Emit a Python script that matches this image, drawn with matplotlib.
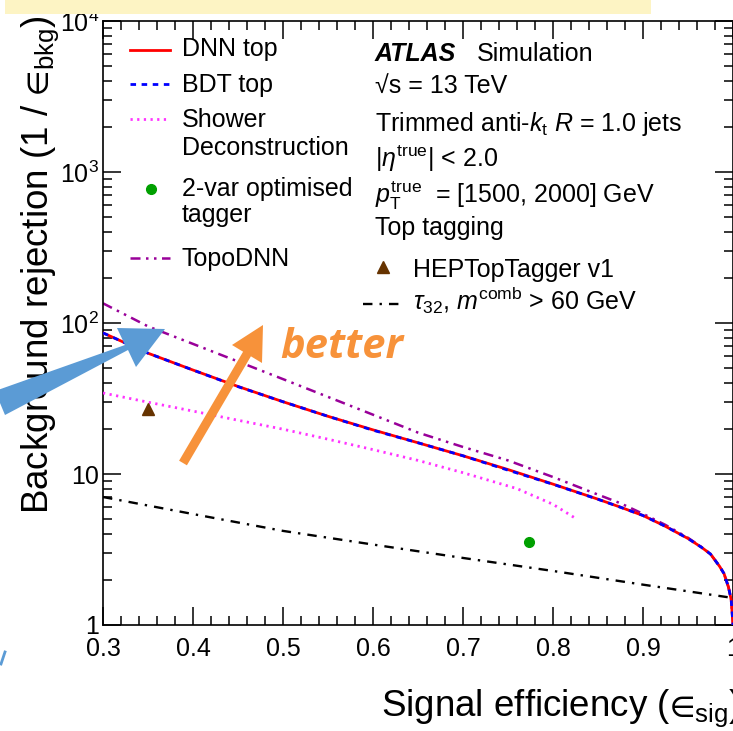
import math

import matplotlib
matplotlib.use('Agg')
import matplotlib.pyplot as plt
from matplotlib.lines import Line2D
from matplotlib.patches import Polygon, Rectangle
from matplotlib.ticker import FixedLocator, FuncFormatter, LogLocator, MultipleLocator

plt.rcParams['font.family'] = ['Liberation Sans', 'DejaVu Sans']
plt.rcParams['mathtext.fontset'] = 'custom'
plt.rcParams['mathtext.rm'] = 'Liberation Sans'
plt.rcParams['mathtext.it'] = 'Liberation Sans:italic'
plt.rcParams['mathtext.bf'] = 'Liberation Sans:bold'

# signal efficiency vs background rejection, pT^true in [1500, 2000] GeV
eff_dnn = [0.30, 0.35, 0.40, 0.45, 0.50, 0.55, 0.60, 0.65, 0.70, 0.75, 0.80, 0.85,
           0.875, 0.90, 0.925, 0.95, 0.965, 0.975, 0.985, 0.99, 0.995, 0.998, 1.0]
rej_dnn = [86, 63.1, 48.8, 38.0, 30.1, 24.1, 19.6, 16.1, 13.2, 10.7, 8.57, 6.81,
           6.03, 5.31, 4.5, 3.74, 3.27, 2.95, 2.45, 2.19, 1.78, 1.47, 1.0]

eff_bdt = eff_dnn
rej_bdt = [86, 63.1, 48.8, 37.9, 30.1, 24.1, 19.5, 16.1, 13.2, 10.6, 8.55, 6.8,
           6.02, 5.31, 4.5, 3.74, 3.27, 2.95, 2.45, 2.19, 1.78, 1.47, 1.0]

eff_topo = eff_dnn
rej_topo = [135, 95, 72.7, 55.6, 42.5, 32.4, 24.7, 18.8, 15.1, 12.3, 9.55, 7.3,
            6.4, 5.45, 4.6, 3.78, 3.28, 2.95, 2.45, 2.19, 1.78, 1.47, 1.0]

eff_sd = [0.30, 0.35, 0.40, 0.45, 0.50, 0.55, 0.60, 0.65, 0.70, 0.76, 0.80, 0.827]
rej_sd = [34.4, 29.9, 26.1, 22.7, 19.8, 17.0, 14.5, 12.3, 10.2, 8.0, 6.3, 5.0]

eff_tau = [0.3, 0.4, 0.5, 0.6, 0.7, 0.8, 0.9, 1.0]
rej_tau = [7.04, 5.43, 4.2, 3.41, 2.78, 2.28, 1.85, 1.51]

eff_hep, rej_hep = [0.35], [26.8]
eff_2var, rej_2var = [0.773], [3.53]

x_major = [0.3, 0.4, 0.5, 0.6, 0.7, 0.8, 0.9, 1.0]
x_labels = ['0.3', '0.4', '0.5', '0.6', '0.7', '0.8', '0.9', '1']

W, H = 733, 731
fig = plt.figure(figsize=(W / 100, H / 100), dpi=100)


def fx(px):
    return px / W


def fy(py):
    return 1 - py / H


ax = fig.add_axes([fx(103), fy(625), 630 / W, 604 / H])

ax.plot(eff_dnn, rej_dnn, color='#ff0000', lw=2.0, zorder=3)
ax.plot(eff_bdt, rej_bdt, color='#0000ff', lw=2.0, dashes=(2, 2), zorder=4)
ax.plot(eff_sd, rej_sd, color='#ff33ff', lw=2.0, dashes=(0.8, 1.6), zorder=3)
ax.plot(eff_topo, rej_topo, color='#990099', lw=1.8, dashes=(4, 2.2, 1, 2.2, 1, 2.2), zorder=2)
ax.plot(eff_tau, rej_tau, color='black', lw=1.7, dashes=(4, 3, 1, 3), zorder=3)
ax.plot(eff_hep, rej_hep, marker='^', ms=8, color='#663300', ls='none', zorder=5)
ax.plot(eff_2var, rej_2var, marker='o', ms=7, color='#00a000', ls='none', zorder=5)

ax.set_xlim(0.3, 1.0)
ax.set_yscale('log')
ax.set_ylim(1, 1e4)

ax.xaxis.set_major_locator(FixedLocator(x_major))
ax.xaxis.set_minor_locator(MultipleLocator(0.02))
ax.set_xticklabels(x_labels)
ax.yaxis.set_major_locator(LogLocator(base=10, numticks=10))
ax.yaxis.set_minor_locator(LogLocator(base=10, subs=range(2, 10), numticks=20))
ax.yaxis.set_minor_formatter(FuncFormatter(lambda v, p: ''))


def ylab(v, pos):
    if v < 1.5:
        return '1'
    if v < 15:
        return '10'
    return r'$10^{%d}$' % round(math.log10(v))


ax.yaxis.set_major_formatter(FuncFormatter(ylab))
ax.tick_params(which='both', direction='in', top=True, right=True, width=1.1,
               labelsize=18)
ax.tick_params(which='major', length=13)
ax.tick_params(which='minor', length=6.5)
ax.tick_params(axis='x', pad=9)
ax.tick_params(axis='y', pad=3)
for s in ax.spines.values():
    s.set_linewidth(1.2)

ax.set_xlabel('Signal efficiency ($\u2208_{\\mathrm{sig}}$)', fontsize=26.5, loc='right')
ax.xaxis.set_label_coords(1.012, -0.103)
ax.set_ylabel('Background rejection (1 / $\u2208_{\\mathrm{bkg}}$)', fontsize=26.5, loc='top')
ax.yaxis.set_label_coords(-0.066, 1.01)

# legend, left column
FS = 18
leg_lines = [
    (50, dict(color='#ff0000', lw=2.0)),
    (84, dict(color='#0000ff', lw=2.0, dashes=(2, 2))),
    (119, dict(color='#ff33ff', lw=2.0, dashes=(0.8, 1.6))),
    (258, dict(color='#990099', lw=1.8, dashes=(4, 2.2, 1, 2.2, 1, 2.2))),
]
for yy, kw in leg_lines:
    fig.add_artist(Line2D([fx(130), fx(170)], [fy(yy), fy(yy)],
                          transform=fig.transFigure, **kw))
fig.add_artist(Line2D([fx(151)], [fy(189)], marker='o', ms=7, color='#00a000',
                      transform=fig.transFigure))
for txt, yy in [('DNN top', 56), ('BDT top', 92), ('Shower', 127),
                ('Deconstruction', 155), ('2-var optimised', 196),
                ('tagger', 222), ('TopoDNN', 266)]:
    fig.text(fx(182), fy(yy), txt, fontsize=FS, va='baseline')

# labels, right column
fig.text(fx(375), fy(61), 'ATLAS', fontsize=FS, weight='bold', style='italic', va='baseline')
fig.text(fx(477), fy(61), 'Simulation', fontsize=FS, va='baseline')
fig.text(fx(375), fy(93), '√s = 13 TeV', fontsize=FS, va='baseline')
fig.text(fx(375), fy(131), r'Trimmed anti-$k_{\mathrm{t}}$ $R$ = 1.0 jets', fontsize=FS, va='baseline')
fig.text(fx(375), fy(167), r'|$\eta^{\mathrm{true}}$| < 2.0', fontsize=FS, va='baseline')
fig.text(fx(375), fy(203), r'$p_{\mathrm{T}}^{\mathrm{true}}$  = [1500, 2000] GeV', fontsize=FS, va='baseline')
fig.text(fx(375), fy(235), 'Top tagging', fontsize=FS, va='baseline')
fig.add_artist(Line2D([fx(383)], [fy(267)], marker='^', ms=8, color='#663300',
                      transform=fig.transFigure))
fig.text(fx(413), fy(277), 'HEPTopTagger v1', fontsize=FS, va='baseline')
fig.add_artist(Line2D([fx(363), fx(400)], [fy(304), fy(304)], color='black', lw=1.7,
                      dashes=(4, 3, 1, 3), transform=fig.transFigure))
fig.text(fx(413), fy(310), r'$\tau_{32}$, $m^{\mathrm{comb}}$ > 60 GeV', fontsize=FS, va='baseline')

# slide decorations: banner strip and arrows
fig.add_artist(Rectangle((fx(5), fy(14)), 646 / W, 14 / H, transform=fig.transFigure,
                         facecolor='#fdf4c4', edgecolor='none', zorder=10))

blue = '#5b9bd5'
blue_arrow = [(-5, 391), (125, 345), (117, 328), (165, 329), (136, 367), (128, 350), (5, 415)]
fig.add_artist(Polygon([(fx(a), fy(b)) for a, b in blue_arrow], closed=True,
                       transform=fig.transFigure, facecolor=blue, edgecolor='none', zorder=8))
fig.add_artist(Line2D([fx(1), fx(5)], [fy(664), fy(652)], color=blue, lw=2,
                      transform=fig.transFigure))

orange = '#f7923a'
orange_arrow = [(179.1, 460.7), (243.1, 351.7), (232, 345), (263, 325), (262, 363),
                (250.9, 356.3), (186.9, 465.3)]
fig.add_artist(Polygon([(fx(a), fy(b)) for a, b in orange_arrow], closed=True,
                       transform=fig.transFigure, facecolor=orange, edgecolor='none', zorder=8))
fig.text(fx(280), fy(358), 'better', fontsize=30, color=orange, weight='bold',
         style='italic', family=['Open Sans', 'DejaVu Sans'], va='baseline', zorder=9)

fig.savefig('out.png', dpi=100)
